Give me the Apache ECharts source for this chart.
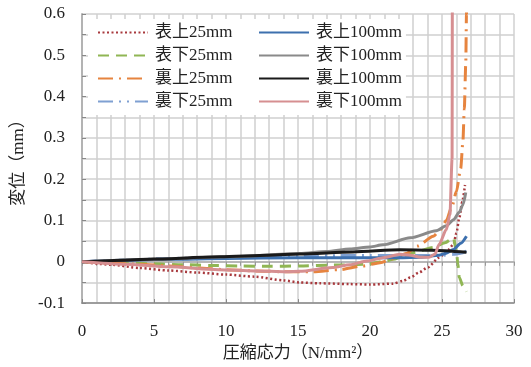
<!DOCTYPE html>
<html><head><meta charset="utf-8">
<script src="https://cdn.jsdelivr.net/npm/echarts@6/dist/echarts.min.js"></script>
<style>html,body{margin:0;padding:0;background:#fff}#c{width:531px;height:367px}</style>
</head><body><div id="c"></div>
<script>
// [stress N/mm2, displacement mm]
const names = ['表上25mm','表下25mm','裏上25mm','裏下25mm','表上100mm','表下100mm','裏上100mm','裏下100mm'];
const omote_ue_25 = [[0,0],[2,-0.007],[4,-0.015],[6,-0.021],[8,-0.026],[10,-0.031],[12,-0.036],[14,-0.045],[15.1,-0.05],[16.5,-0.052],[18.6,-0.054],[20,-0.055],[21.6,-0.053],[22.3,-0.046],[22.8,-0.038],[23.4,-0.026],[24,-0.014],[24.8,0.01],[25.4,0.028],[25.8,0.042],[26.0,0.07],[26.2,0.106],[26.4,0.145],[26.6,0.186]];
const omote_shita_25 = [[0,0],[3,-0.002],[5,-0.005],[7,-0.007],[9,-0.009],[11,-0.01],[13,-0.011],[15.1,-0.01],[17.5,-0.008],[19.8,-0.006],[21,0.001],[21.6,0.006],[22.5,0.016],[23.4,0.026],[24.4,0.035],[25.2,0.046],[25.8,0.058],[26.0,0.026],[26.1,-0.005],[26.2,-0.038],[26.45,-0.058],[26.7,-0.072]];
const ura_ue_25 = [[0,0],[2,-0.003],[4,-0.006],[6,-0.01],[8,-0.015],[10,-0.019],[12,-0.022],[14,-0.024],[16,-0.024],[17.9,-0.019],[19.5,-0.01],[20.7,-0.002],[21.7,0.008],[22.5,0.02],[23.3,0.038],[24.4,0.062],[24.9,0.078],[25.3,0.1],[25.7,0.135],[26.0,0.17],[26.3,0.226],[26.45,0.29],[26.55,0.37],[26.65,0.48],[26.7,0.6],[26.72,0.7]];
const ura_shita_25 = [[0,0],[3,0.004],[6,0.008],[10,0.011],[15,0.014],[18,0.015],[20,0.015],[22,0.015],[24,0.015],[25,0.016],[25.8,0.018],[26.3,0.021],[26.7,0.026]];
const omote_ue_100 = [[0,0],[3,0.004],[6,0.006],[10,0.008],[15,0.01],[20,0.01],[22,0.01],[23.5,0.011],[24.8,0.016],[25.3,0.021],[25.8,0.03],[26.3,0.045],[26.7,0.062]];
const omote_shita_100 = [[0,0],[5,0.006],[10,0.012],[15.1,0.02],[17,0.025],[18.6,0.031],[20,0.036],[20.9,0.041],[22.8,0.058],[24.6,0.075],[25.3,0.087],[25.8,0.102],[26.2,0.12],[26.45,0.138],[26.65,0.168]];
const ura_ue_100 = [[0,0],[3,0.004],[5,0.007],[9.6,0.012],[13,0.016],[15.1,0.019],[18.8,0.024],[22.1,0.029],[24.3,0.028],[26.7,0.023]];
const ura_shita_100 = [[0,0],[3,-0.006],[6,-0.012],[9.5,-0.019],[12,-0.022],[14.2,-0.024],[15.1,-0.023],[17.4,-0.014],[18.6,-0.007],[19.8,0.002],[20.9,0.01],[22.1,0.018],[22.8,0.016],[23.5,0.011],[24.1,0.011],[24.5,0.018],[24.8,0.042],[25.3,0.078],[25.55,0.114],[25.7,0.25],[25.72,0.7]];
const xTicks = [0,5,10,15,20,25,30];
const yTicks = [-0.1,0,0.1,0.2,0.3,0.4,0.5,0.6];

const datas = [omote_ue_25, omote_shita_25, ura_ue_25, ura_shita_25, omote_ue_100, omote_shita_100, ura_ue_100, ura_shita_100];
const colors = ['#A8393D','#90B654','#E6843F','#7FA0D2','#3D70AE','#8A8A8A','#1A1A1A','#D68F91'];
const styles = [
  {type:[2,2.5], width:2.5},
  {type:[11,7], width:3},
  {type:[15,6,2,6], width:3},
  {type:[15,6,2,6,2,6], width:3},
  {type:'solid', width:3},
  {type:'solid', width:3},
  {type:'solid', width:3},
  {type:'solid', width:3}
];
const FONT = '"Liberation Serif","Noto Sans CJK JP",serif';
const chart = echarts.init(document.getElementById('c'), null, {renderer:'canvas'});
const series = names.map((n,i)=>({
  name:n, type:'line', data:datas[i], showSymbol:false, symbol:'none',
  smooth:0.25, smoothMonotone:'x',
  clip:true, color:colors[i],
  lineStyle:Object.assign({color:colors[i], cap:'butt'}, styles[i])
}));
const fmt = v => Math.abs(v)<1e-9 ? '0' : (+v.toFixed(1)).toString();
const legendCommon = {
  orient:'vertical', itemWidth:50, itemHeight:14, itemGap:6,
  backgroundColor:'#fff', borderWidth:0,
  itemStyle:{opacity:0},
  textStyle:{fontFamily:FONT, fontSize:17, color:'#222', padding:[0,0,0,2]},
  selectedMode:false
};
chart.setOption({
  animation:false,
  backgroundColor:'#fff',
  grid:{left:82, right:17, top:14, bottom:61},
  legend:[
    Object.assign({}, legendCommon, {left:88, top:19, padding:[5,18,5,9], data:names.slice(0,4)}),
    Object.assign({}, legendCommon, {left:248, top:19, padding:[5,4,5,10], data:names.slice(4)})
  ],
  xAxis:[{
    type:'value', min:0, max:30, interval:5,
    name:'圧縮応力（N/mm²）', nameLocation:'middle', nameGap:38,
    nameTextStyle:{fontFamily:FONT, fontSize:17, color:'#222'},
    axisLine:{show:true, onZero:false, lineStyle:{color:'#888', width:1.5}},
    axisTick:{show:true, inside:true, length:4, lineStyle:{color:'#888'}},
    axisLabel:{fontFamily:FONT, fontSize:17, color:'#222', margin:20, formatter:v=>String(v)},
    splitLine:{show:true, lineStyle:{color:'#d0d0d0', width:1.5}},
    minorTick:{show:false, splitNumber:5},
    minorSplitLine:{show:true, lineStyle:{color:'#d0d0d0', width:1.5}}
  },{
    type:'value', min:0, max:30, interval:1, position:'top',
    axisLine:{show:true, lineStyle:{color:'#aaa', width:1.5}},
    axisTick:{show:true, inside:true, length:4, lineStyle:{color:'#999'}},
    axisLabel:{show:false}, splitLine:{show:false}
  }],
  yAxis:[{
    type:'value', min:-0.1, max:0.6, interval:0.1,
    name:'変位（mm）', nameLocation:'middle', nameGap:50, nameRotate:90,
    nameTextStyle:{fontFamily:FONT, fontSize:17, color:'#222'},
    axisLine:{show:true, onZero:false, lineStyle:{color:'#888', width:1.5}},
    axisTick:{show:true, inside:true, length:4, lineStyle:{color:'#888'}},
    axisLabel:{fontFamily:FONT, fontSize:17, color:'#222', margin:17, formatter:fmt},
    splitLine:{show:true, lineStyle:{color:'#d0d0d0', width:1.5}},
    minorTick:{show:true, splitNumber:2, length:4, lineStyle:{color:'#888'}},
    minorSplitLine:{show:true, lineStyle:{color:'#d0d0d0', width:1.5}}
  },{
    type:'value', min:-0.1, max:0.6, interval:0.1, position:'right',
    axisLine:{show:true, lineStyle:{color:'#bbb', width:1.5}},
    axisTick:{show:false}, axisLabel:{show:false}, splitLine:{show:false}
  }],
  series: series
});
</script></body></html>
